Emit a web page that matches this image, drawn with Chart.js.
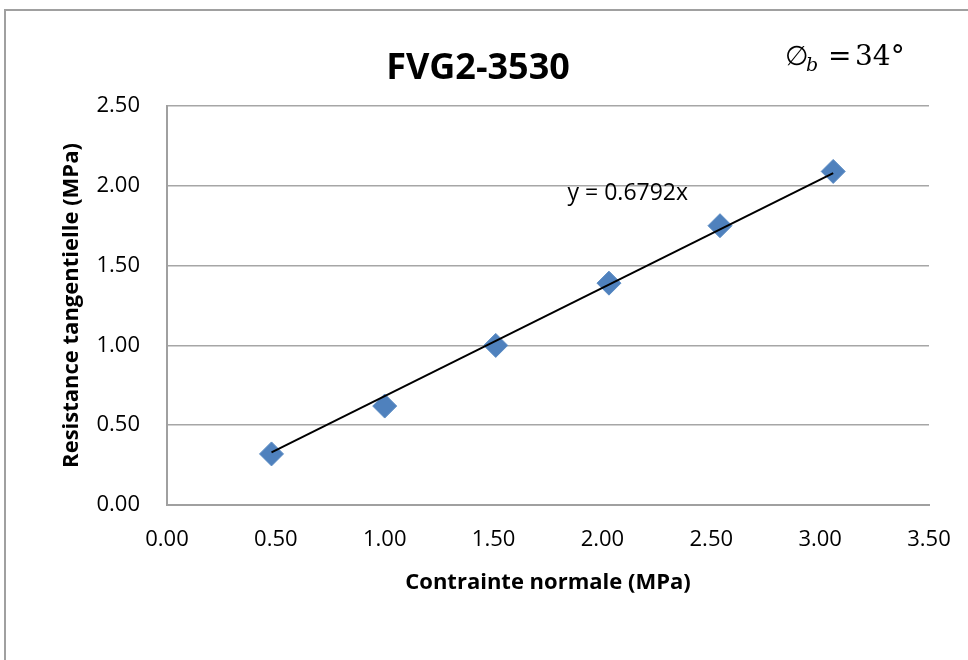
<!DOCTYPE html>
<html><head><meta charset="utf-8">
<script src="https://cdn.jsdelivr.net/npm/chart.js@4/dist/chart.umd.min.js"></script>
<style>html,body{margin:0;padding:0;background:#fff}#wrap{width:968px;height:660px}</style>
</head><body><div id="wrap"><canvas id="c" width="968" height="660"></canvas></div>
<script>
// ---- data ----
const chartTitle = 'FVG2-3530';
const xAxisTitle = 'Contrainte normale (MPa)';
const yAxisTitle = 'Resistance tangentielle (MPa)';
const normalStress  = [0.48, 1.00, 1.51, 2.03, 2.54, 3.06];
const shearStrength = [0.32, 0.62, 1.00, 1.39, 1.75, 2.09];
const trendX = [0.48, 3.06];
const trendY = [0.33, 2.08];
const trendLabel = 'y = 0.6792x';
const xTickLabels = ['0.00','0.50','1.00','1.50','2.00','2.50','3.00','3.50'];
const yTickLabels = ['0.00','0.50','1.00','1.50','2.00','2.50'];
const angleText = { symbol: '\u2205', sub: 'b', eq: '=', value: '34\u00B0' };

const points = normalStress.map((x, i) => ({ x: x, y: shearStrength[i] }));
const trend = trendX.map((x, i) => ({ x: x, y: trendY[i] }));

const FONT = "'Open Sans', 'Noto Sans', sans-serif";
const SERIF = "'DejaVu Serif', 'Liberation Serif', serif";

const decor = {
  id: 'decor',
  beforeDraw(chart) {
    const ctx = chart.ctx;
    ctx.save();
    ctx.fillStyle = '#ffffff';
    ctx.fillRect(0, 0, chart.width, chart.height);
    ctx.strokeStyle = '#a0a0a0';
    ctx.lineWidth = 2;
    ctx.strokeRect(5, 10, chart.width + 20, chart.height + 20);
    ctx.restore();
  },
  afterDraw(chart) {
    const ctx = chart.ctx;
    const a = chart.chartArea;
    const xs = chart.scales.x, ys = chart.scales.y;
    ctx.save();
    ctx.fillStyle = '#000';
    // main title
    ctx.font = "bold 36px " + FONT;
    ctx.textAlign = 'center';
    ctx.textBaseline = 'middle';
    ctx.fillText(chartTitle, 478, 69);
    // x axis title
    ctx.font = "bold 22px " + FONT;
    ctx.fillText(xAxisTitle, (a.left + a.right) / 2, 583);
    // y axis title
    ctx.save();
    ctx.translate(72, (a.top + a.bottom) / 2);
    ctx.rotate(-Math.PI / 2);
    ctx.fillText(yAxisTitle, 0, 0);
    ctx.restore();
    // trend equation
    ctx.font = "23px " + FONT;
    ctx.textAlign = 'left';
    ctx.fillText(trendLabel, xs.getPixelForValue(1.84), ys.getPixelForValue(1.955));
    // angle annotation
    ctx.textBaseline = 'alphabetic';
    ctx.font = "27px " + SERIF;
    ctx.fillText(angleText.symbol, 785, 65);
    ctx.font = "italic 19px " + SERIF;
    ctx.fillText(angleText.sub, 806, 71);
    ctx.font = "28px " + SERIF;
    ctx.fillText(angleText.eq, 828, 65);
    ctx.fillText(angleText.value, 855, 65);
    ctx.restore();
  }
};

new Chart(document.getElementById('c'), {
  type: 'scatter',
  data: {
    datasets: [
      {
        label: 'trend',
        data: trend,
        showLine: true,
        borderColor: '#000000',
        borderWidth: 2,
        pointRadius: 0,
        fill: false
      },
      {
        label: 'data',
        data: points,
        pointStyle: 'rectRot',
        pointRadius: 12,
        backgroundColor: '#4F81BD',
        borderColor: '#5b8cc4',
        borderWidth: 1,
        showLine: false
      }
    ]
  },
  options: {
    responsive: false,
    devicePixelRatio: 1,
    animation: false,
    events: [],
    layout: { padding: { left: 10, right: 39, top: 106, bottom: 64 } },
    plugins: { legend: { display: false }, tooltip: { enabled: false }, title: { display: false } },
    scales: {
      x: {
        type: 'linear', min: 0, max: 3.5,
        afterFit(s) { s.height = 91; s.paddingLeft = 0; s.paddingRight = 0; },
        afterBuildTicks(s) { s.ticks = xTickLabels.map(t => ({ value: parseFloat(t) })); },
        ticks: {
          callback: (v) => xTickLabels.find(t => parseFloat(t) === v) || '',
          font: { family: FONT, size: 22 }, color: '#000', padding: 22, maxRotation: 0, autoSkip: false
        },
        grid: { display: false, drawTicks: false },
        border: { display: true, color: '#a0a0a0', width: 2 }
      },
      y: {
        type: 'linear', min: 0, max: 2.5,
        afterFit(s) { s.width = 157; s.paddingTop = 0; s.paddingBottom = 0; },
        afterBuildTicks(s) { s.ticks = yTickLabels.map(t => ({ value: parseFloat(t) })); },
        ticks: {
          callback: (v) => yTickLabels.find(t => parseFloat(t) === v) || '',
          font: { family: FONT, size: 22 }, color: '#000', padding: 27, autoSkip: false
        },
        grid: { color: '#a6a6a6', lineWidth: 1.5, drawTicks: false },
        border: { display: true, color: '#a0a0a0', width: 2 }
      }
    }
  },
  plugins: [decor]
});
</script>
</body></html>
